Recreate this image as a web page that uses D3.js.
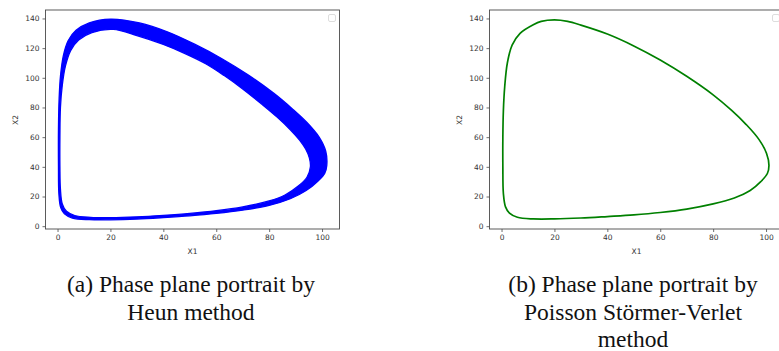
<!DOCTYPE html>
<html><head><meta charset="utf-8">
<script src="https://cdn.jsdelivr.net/npm/d3@7"></script>
<style>
html,body{margin:0;padding:0;background:#fff;}
svg{display:block;}
</style></head>
<body>
<script>
// ---- data ----
const xTicks = [0, 20, 40, 60, 80, 100];
const yTicks = [0, 20, 40, 60, 80, 100, 120, 140];
const xLabel = "X1";
const yLabel = "X2";
const captionA = ["(a) Phase plane portrait by", "Heun method"];
const captionB = ["(b) Phase plane portrait by", "Poisson Störmer-Verlet", "method"];

// Heun method: trajectory band (outer and inner envelope)
const heunOutX1 = [12, 20, 30, 40, 50, 60, 70, 80, 88, 94, 98.5, 101, 101.8, 101.4, 98.9, 94.2, 88.8, 81.8, 72, 62, 52, 41.5, 31, 20, 12, 7, 4, 2.2, 1.1, 0.6, 0.35, 0.35, 0.5, 1.2, 2.6, 5.6];
const heunOutX2 = [4.4, 4.3, 4.8, 5.8, 7, 8.6, 10.8, 14, 18.5, 24, 30.5, 35.5, 41, 50.5, 60, 70, 79, 89.5, 102, 113, 122.5, 131, 137, 139.6, 137, 132, 125, 115, 101, 86, 66, 40, 22, 12.5, 8.3, 5.5];
const heunInX1 = [12.5, 20, 30, 40, 50, 60, 70, 80, 86, 91, 94.3, 95.6, 95.2, 93.8, 91.5, 88, 83, 77, 70, 63, 56, 48, 40, 30, 21, 13, 8, 5, 3, 1.8, 1.1, 0.9, 0.9, 1.1, 1.8, 3.4, 6.5];
const heunInX2 = [6.0, 5.8, 6.3, 7.3, 8.6, 10.4, 13, 17, 21, 27, 33, 40, 46, 52, 58, 65, 73.5, 82.5, 92.5, 101.5, 109.5, 116.5, 122.5, 128.5, 132.6, 130.5, 125.5, 118.5, 108, 95, 80, 60, 40, 25, 15, 10, 7.2];

// Poisson Störmer-Verlet: closed orbit
const svX1 = [12, 20, 30, 40, 50, 60, 70, 80, 88, 94, 98, 100.5, 101.1, 100.2, 97.3, 92.5, 87, 80, 70, 60, 50, 40, 30, 25, 20, 15, 12, 7, 4, 2.2, 1.2, 0.7, 0.5, 0.5, 0.7, 1.5, 3, 6];
const svX2 = [4.9, 4.9, 5.5, 6.5, 7.6, 9.2, 11.5, 15, 19, 24, 30, 35.5, 41, 49, 58.5, 68.5, 78, 88.5, 101, 112, 121.5, 129.5, 135.5, 138, 139, 138, 135.8, 130, 122, 110, 94, 78, 60, 40, 22, 13, 8.8, 6.0];

const W = 779, H = 351;
const svg = d3.select("body").append("svg").attr("width", W).attr("height", H)
  .style("font-family", "'DejaVu Sans', sans-serif");

const zip = (a, b) => a.map((v, i) => [v, b[i]]);

function panel(left, opts) {
  const top = 10, bottom = 229, width = 294;
  const x = d3.scaleLinear().domain([-4.55, 106.6]).range([left, left + width]);
  const y = d3.scaleLinear().domain([-1.9, 145.7]).range([bottom, top]);
  const g = svg.append("g");
  const clipId = "clip" + Math.round(left);
  svg.append("clipPath").attr("id", clipId).append("rect")
    .attr("x", left).attr("y", top).attr("width", width).attr("height", bottom - top);

  const line = d3.line().x(d => x(d[0])).y(d => y(d[1])).curve(d3.curveCatmullRomClosed.alpha(0.5));
  const plot = g.append("g").attr("clip-path", `url(#${clipId})`);
  opts.draw(plot, line);

  // frame
  g.append("rect").attr("x", left).attr("y", top).attr("width", width).attr("height", bottom - top)
    .attr("fill", "none").attr("stroke", "#4a4a4a").attr("stroke-width", 0.9);

  // empty legend box
  g.append("rect").attr("x", left + width - 11).attr("y", top + 4.5).attr("width", 7).attr("height", 7)
    .attr("rx", 1.5).attr("fill", "#fff").attr("stroke", "#d4d4d4").attr("stroke-width", 0.8);

  const xa = g.append("g").attr("transform", `translate(0,${bottom})`)
    .call(d3.axisBottom(x).tickValues(xTicks).tickSize(3).tickPadding(3).tickFormat(d3.format("d")));
  const ya = g.append("g").attr("transform", `translate(${left},0)`)
    .call(d3.axisLeft(y).tickValues(yTicks).tickSize(3).tickPadding(3).tickFormat(d3.format("d")));
  [xa, ya].forEach(a => {
    a.select(".domain").remove();
    a.selectAll("line").attr("stroke", "#4a4a4a").attr("stroke-width", 0.8);
    a.selectAll("text").attr("fill", "#333").style("font-size", "7.5px").style("font-family", "'DejaVu Sans', sans-serif");
  });

  g.append("text").attr("x", left + 147).attr("y", 254).attr("text-anchor", "middle")
    .attr("fill", "#333").style("font-size", "7.5px").text(xLabel);
  g.append("text").attr("transform", `translate(${left - 27.5},120) rotate(-90)`).attr("text-anchor", "middle")
    .attr("fill", "#333").style("font-size", "7.5px").text(yLabel);

  const cap = svg.append("text").attr("text-anchor", "middle")
    .style("font-family", "'Liberation Serif', 'Times New Roman', serif").style("font-size", "23.5px").attr("fill", "#111");
  opts.caption.forEach((t, i) => {
    cap.append("tspan").attr("x", opts.capX).attr("y", 292 + i * 27.5).text(t);
  });
}

panel(45.5, {
  capX: 191,
  caption: captionA,
  draw: (p, line) => {
    const outer = zip(heunOutX1, heunOutX2), inner = zip(heunInX1, heunInX2);
    p.append("path").attr("d", line(outer) + line(inner))
      .attr("fill", "#0000ff").attr("fill-rule", "evenodd")
      .attr("stroke", "#0000ff").attr("stroke-width", 1.3);
  }
});

panel(489.5, {
  capX: 633,
  caption: captionB,
  draw: (p, line) => {
    p.append("path").attr("d", line(zip(svX1, svX2)))
      .attr("fill", "none").attr("stroke", "#008000").attr("stroke-width", 1.7);
  }
});
</script>
</body></html>
